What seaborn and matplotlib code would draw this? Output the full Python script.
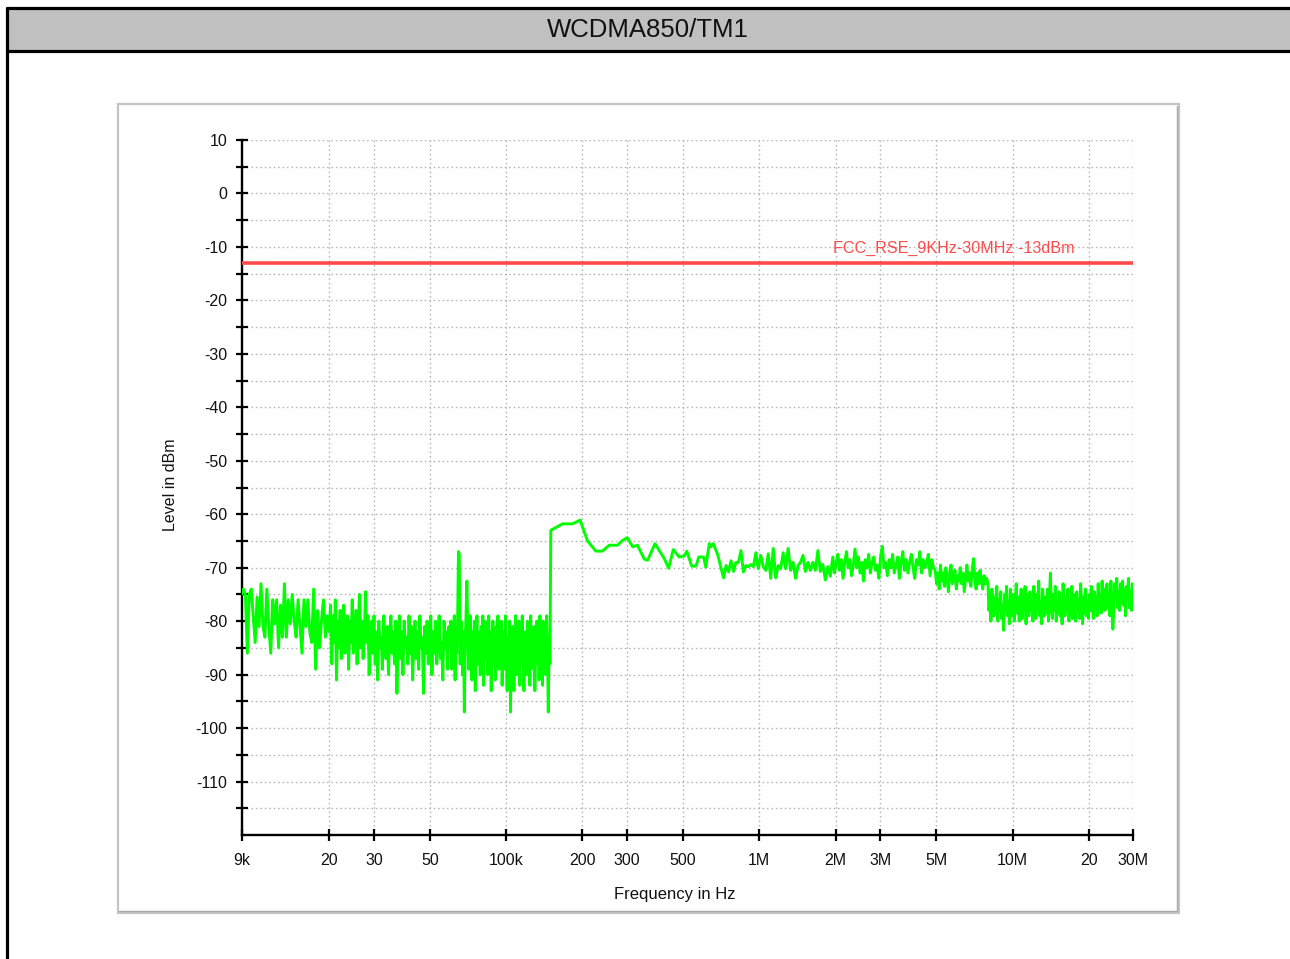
import numpy as np
import pandas as pd
import matplotlib
matplotlib.use("Agg")
import matplotlib.pyplot as plt
import seaborn as sns
from matplotlib.ticker import FixedLocator, FixedFormatter, NullLocator
from matplotlib.patches import Rectangle
from matplotlib.lines import Line2D

# ---------------------------------------------------------------- texts
TITLE = "WCDMA850/TM1"
X_LABEL = "Frequency in Hz"
Y_LABEL = "Level in dBm"
LIMIT_NAME = "FCC_RSE_9KHz-30MHz -13dBm"

# ---------------------------------------------------------------- axes
F_START, F_STOP = 9e3, 30e6
LEVEL_MIN, LEVEL_MAX = -120, 10
X_TICKS = [9e3, 20e3, 30e3, 50e3, 100e3, 200e3, 300e3, 500e3,
           1e6, 2e6, 3e6, 5e6, 10e6, 20e6, 30e6]
X_TICK_LABELS = ["9k", "20", "30", "50", "100k", "200", "300", "500",
                 "1M", "2M", "3M", "5M", "10M", "20", "30M"]
Y_TICKS = list(range(10, -120, -5))
Y_TICK_LABELS = [str(v) if v % 10 == 0 else "" for v in Y_TICKS]

# ---------------------------------------------------------------- limit
LIMIT_DBM = -13.0

# ---------------------------------------------------------------- trace, sweep 9 kHz - 150 kHz (dBm)
level_9k_20k = [-75, -74, -75, -86, -75, -74, -79, -84, -75.5, -81, -73, -81, -83, -74, -81,
                -86, -76, -80.5, -76, -85, -77, -83, -73, -83, -76, -80.5, -75, -80, -83, -76,
                -81, -86, -76, -81, -76, -82, -84, -74, -89, -78, -85, -80, -76, -83, -79]

level_20k_60k = [-82, -77, -88, -79, -84, -76, -91, -80, -85, -78, -87, -81, -77, -86, -83,
                 -79, -89, -80, -84, -76, -86, -82, -78, -88, -81, -75, -85, -80, -87, -83,
                 -74.5, -84, -79, -90, -82,
                 -80, -86, -79, -88, -82, -91, -80, -85, -83, -89, -79, -84, -87, -81, -90,
                 -83, -79, -86, -82, -88, -80, -93.5, -84, -79, -87, -82, -90, -80, -85, -83,
                 -88, -79, -86, -81, -91, -84, -80, -87, -82, -89, -79, -85, -83, -93.5, -81,
                 -86, -80, -88, -84, -79, -90, -82, -86, -80, -88, -83, -79, -87, -84, -91,
                 -80, -85, -82, -89, -81]

level_60k_150k = [-84, -80, -89, -82, -87, -79, -91, -83, -86, -80,
                  -67, -67.5,
                  -88, -80, -85, -90, -82, -97, -84, -79,
                  -72.5, -81,
                  -89, -83, -79, -87, -91, -82, -85, -80, -93, -84, -79, -88, -82, -86, -90, -81,
                  -85, -79,
                  -92, -84, -80, -87, -83, -90, -79, -86, -82, -93, -85, -80, -88, -84, -91, -81,
                  -86, -79, -89, -83,
                  -87, -80, -92, -85, -82, -89, -79, -86, -93, -83, -88, -80, -97, -84, -87, -81,
                  -93, -85, -79, -90,
                  -83, -87, -80, -92, -84, -88, -79, -86, -93, -82, -85, -90, -80, -87, -83, -92,
                  -79, -86, -84, -89,
                  -81, -93, -85, -80, -88, -83, -91, -79, -86, -84, -92, -80, -87, -83, -90, -79,
                  -85, -97, -84, -88]

# ---------------------------------------------------------------- trace, sweep 150 kHz - 30 MHz (dBm)
freq_150k_710k_khz = [150, 166.9, 182.7, 195.8, 209.5, 226, 240, 255, 275, 288, 301, 316,
                      330, 351, 362, 387, 421, 438, 457, 482, 505, 517, 540, 562, 576, 602,
                      614, 634, 644, 657, 684, 710]
level_150k_710k = [-63.0, -61.8, -61.8, -61.1, -65.0, -66.9, -66.9, -65.8, -65.8, -64.9, -64.4,
                   -66.1, -65.8, -68.4, -68.6, -65.5, -68.3, -70.1, -66.6, -68.0, -67.8, -66.9,
                   -69.7, -69.7, -68.0, -68.0, -69.9, -65.5, -66.1, -65.5, -67.5, -70.6]

level_720k_2m = [-71.9, -69.6, -70.8, -68.7, -70.7, -69.0, -69.0, -66.8, -70.8, -69.6, -69.8,
                 -69.4, -69.8, -67.2, -70.2, -67.7, -69.8, -70.5, -67.4, -72.0, -66.4, -71.9,
                 -69.6, -70.2, -67.2, -70.2, -66.4, -70.5, -69.0, -72.0, -69.6, -69.0, -67.7,
                 -70.7, -69.0, -70.5, -69.0, -70.5, -66.8, -70.7, -69.4, -72.3, -69.8, -71.6]

level_2m_5m = [-68, -71, -69, -67.5, -70.5, -68.5, -72, -69, -67, -70, -68.5, -71.5, -69.5, -66.5,
               -70, -68, -71, -69, -72.5, -68.5, -70, -67.5, -71, -69, -68, -70.5, -69.5, -72,
               -68, -66, -70, -69, -71.5, -68.5, -70, -67.5, -71, -69.5, -68, -72, -69, -67,
               -70.5, -68.5, -71, -69, -67.5, -70, -72, -68.5, -69.5, -67, -71, -68.5, -70, -69,
               -67.5, -71.5, -68.5, -70]

level_5m_8m = [-70.5, -73, -71, -74, -69.5, -72.5, -71, -73.5, -70, -72, -74.5, -71, -69.5, -73,
               -72, -70.5, -74, -71.5, -72.5, -70, -73, -71, -74.5, -72, -69.5, -72.5, -71,
               -73.5, -70.5, -68.3, -72, -74, -71, -73, -70.5, -72.5, -74, -71.5, -73, -72]

level_8m_30m = [-73, -78, -75, -80, -74, -77, -79, -75.5, -78.5, -73.5, -80, -76, -78, -74.5, -79.5,
                -77, -81.7, -75, -78, -73.5, -79, -76.5, -80.5, -74, -77.5, -79, -75, -80, -76.5, -73,
                -78.5, -75.5, -80, -77, -74, -79.5, -76, -78, -73.5, -80.5, -75, -77.5, -79, -74.5, -78,
                -76, -80, -73.5, -77.5, -79.5, -75, -78, -72.5, -79, -76.5, -80.5, -74, -77, -79, -75.5,
                -78.5, -74, -80, -76, -71, -77.5, -79.5, -75, -78, -73.5, -80, -76.5, -78.5, -74.5, -79,
                -76, -80.5, -73, -77.5, -79, -75.5, -78, -74, -80, -76.5, -78.5, -73.5, -79.5, -75, -77.5,
                -80, -74.5, -78, -76, -79.5, -73, -77, -80.5, -75.5, -78.5, -74, -79, -76.5, -79.5, -75,
                -78, -73.5, -77, -79.5, -74.5, -78, -75.5, -79, -73, -77.5, -75, -78.5, -72.5, -77, -74,
                -78, -75.5, -73, -77.5, -74.5, -79, -72.5, -76.5, -81.5, -78, -73, -76, -72, -77.5, -74.5,
                -78, -73, -76.5, -72.5, -77, -74, -79, -73.5, -76, -72, -77.5, -74.5, -78, -73, -74]


def sweep(f0, f1, levels, endpoint=False):
    """Log-spaced frequency points for one block of analyzer readings."""
    return np.geomspace(f0, f1, len(levels), endpoint=endpoint)


freqs = np.concatenate([
    sweep(9e3, 20e3, level_9k_20k),
    sweep(20e3, 60e3, level_20k_60k),
    sweep(60e3, 150e3, level_60k_150k),
    np.array(freq_150k_710k_khz) * 1e3,
    sweep(722e3, 1.95e6, level_720k_2m),
    sweep(1.95e6, 4.95e6, level_2m_5m),
    sweep(4.95e6, 8.0e6, level_5m_8m),
    sweep(8.0e6, 30e6, level_8m_30m, endpoint=True),
])
levels = np.concatenate([level_9k_20k, level_20k_60k, level_60k_150k, level_150k_710k,
                         level_720k_2m, level_2m_5m, level_5m_8m, level_8m_30m])
trace = pd.DataFrame({"freq_hz": freqs, "level_dbm": levels})
limit = pd.DataFrame({"freq_hz": [F_START, F_STOP], "level_dbm": [LIMIT_DBM, LIMIT_DBM]})

# ---------------------------------------------------------------- style
sns.set_style("white")
plt.rcParams["font.family"] = ["Liberation Sans", "DejaVu Sans"]

W, H = 1290, 959
fig = plt.figure(figsize=(W / 100, H / 100), dpi=100)
fig.patch.set_facecolor("white")


def fx(px):
    return px / W


def fy(py):
    return 1 - py / H


# header band with title
fig.add_artist(Rectangle((fx(7), fy(51)), fx(W - 7), (51 - 8) / H, zorder=-10,
                         transform=fig.transFigure, facecolor="#C0C0C0", edgecolor="none"))
for y in (8, 51):
    fig.add_artist(Line2D([fx(7), 1], [fy(y), fy(y)], transform=fig.transFigure,
                          color="black", lw=2.3, zorder=-9))
fig.add_artist(Line2D([fx(7), fx(7)], [fy(8), 0], transform=fig.transFigure,
                      color="black", lw=2.3, zorder=-9))
fig.text(fx(648), fy(30), TITLE, ha="center", va="center", fontsize=18.5, color="#111111")

# chart panel frame
fig.add_artist(Rectangle((fx(118), fy(913)), fx(1179 - 118), (913 - 104) / H, zorder=-10,
                         transform=fig.transFigure, facecolor="white",
                         edgecolor="#C4C4C4", lw=1.6))
fig.add_artist(Line2D([fx(1177), fx(1177), fx(119)], [fy(106), fy(911), fy(911)],
                      transform=fig.transFigure, color="#A8A8A8", lw=1.0, zorder=-9))

ax = fig.add_axes([fx(241.5), fy(835), fx(1133.3 - 241.5), (835 - 140) / H])
ax.set_facecolor("none")

sns.lineplot(data=trace, x="freq_hz", y="level_dbm", ax=ax, sort=False, estimator=None,
             color="#00FF00", lw=2.1, zorder=3)
sns.lineplot(data=limit, x="freq_hz", y="level_dbm", ax=ax, sort=False, estimator=None,
             color="#FF4A4A", lw=2.6, zorder=4)
ax.text(1.95e6, -10.2, LIMIT_NAME, color="#FF4A4A", fontsize=11.6, ha="left", va="center",
        zorder=5)

ax.set_xscale("log")
ax.set_xlim(F_START, F_STOP)
ax.set_ylim(LEVEL_MIN, LEVEL_MAX)

ax.xaxis.set_major_locator(FixedLocator(X_TICKS))
ax.xaxis.set_major_formatter(FixedFormatter(X_TICK_LABELS))
ax.xaxis.set_minor_locator(NullLocator())
ax.yaxis.set_major_locator(FixedLocator(Y_TICKS))
ax.yaxis.set_major_formatter(FixedFormatter(Y_TICK_LABELS))

ax.grid(True, which="major", color="#B8B8B8", lw=1.0, linestyle=(0, (1.2, 2.0)), zorder=1)
for side in ("top", "right"):
    ax.spines[side].set_visible(False)
for side in ("left", "bottom"):
    ax.spines[side].set_color("black")
    ax.spines[side].set_linewidth(1.7)

ax.tick_params(axis="both", which="major", direction="inout", length=8.5, width=1.6,
               color="black", labelsize=11.5, labelcolor="#111111",
               bottom=True, left=True, top=False, right=False)
ax.tick_params(axis="x", pad=9)
ax.tick_params(axis="y", pad=6)

ax.set_xlabel(X_LABEL, fontsize=12, color="#111111")
ax.set_ylabel(Y_LABEL, fontsize=11.5, color="#111111")
ax.xaxis.set_label_coords((675 - 241.5) / 891.8, (835 - 887) / 695)
ax.yaxis.set_label_coords((178 - 241.5) / 891.8, (835 - 485) / 695)

fig.savefig("out.png", dpi=100)
